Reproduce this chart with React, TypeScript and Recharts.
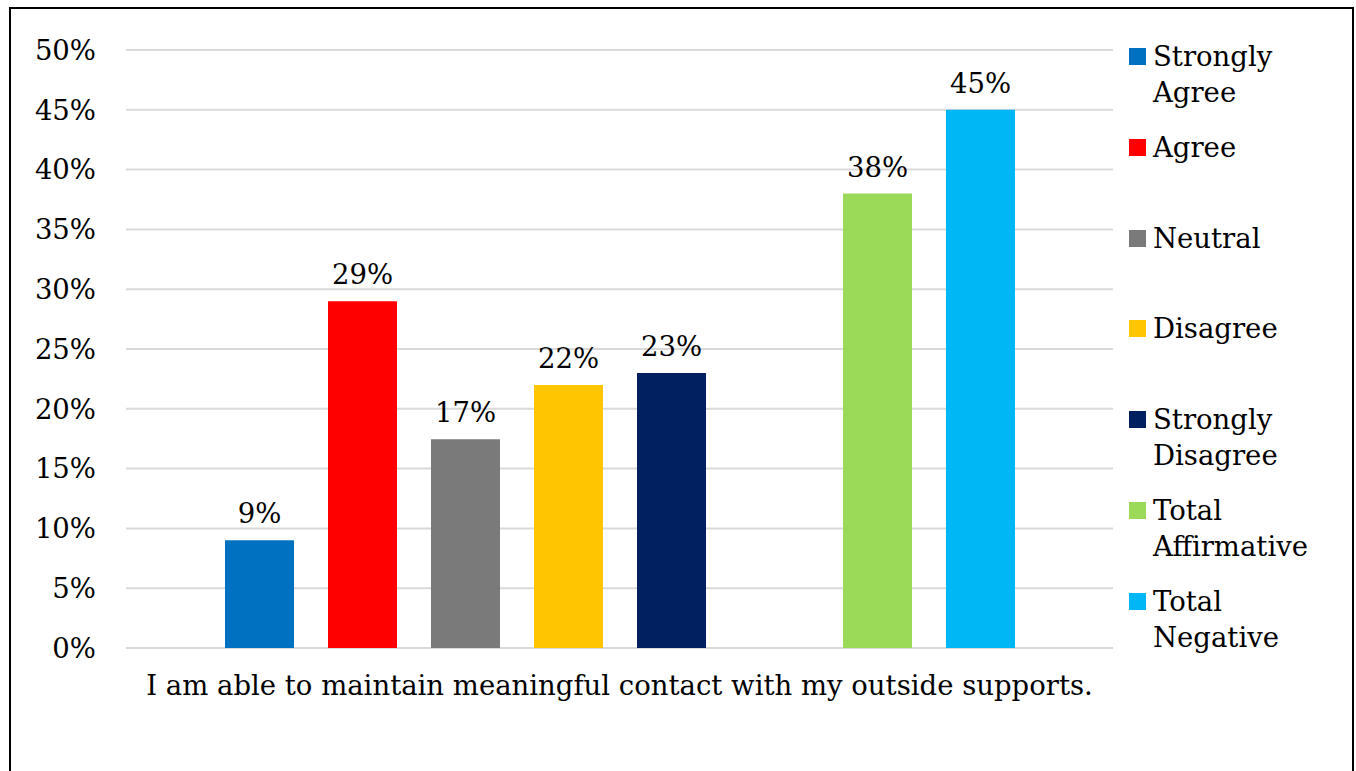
import { BarChart, Bar, XAxis, YAxis, CartesianGrid, LabelList, Legend } from 'recharts';

const FONT = '"DejaVu Serif", Georgia, serif';
const FS = 27.5;

const question = 'I am able to maintain meaningful contact with my outside supports.';
const seriesNames = ['Strongly Agree', 'Agree', 'Neutral', 'Disagree', 'Strongly Disagree', 'Total Affirmative', 'Total Negative'];
const seriesKeys = ['sa', 'a', 'n', 'd', 'sd', 'ta', 'tn'];
const seriesValues = [9, 29, 17.45, 22, 23, 38, 45];
const seriesColors = ['#0070C0', '#FF0000', '#7A7A7A', '#FFC600', '#002060', '#9BD958', '#00B7F5'];
const legendLines = [['Strongly', 'Agree'], ['Agree'], ['Neutral'], ['Disagree'], ['Strongly', 'Disagree'], ['Total', 'Affirmative'], ['Total', 'Negative']];
const yTicks = [0, 5, 10, 15, 20, 25, 30, 35, 40, 45, 50];

const row: Record<string, string | number> = { name: question, gap: 0 };
seriesKeys.forEach((k, i) => { row[k] = seriesValues[i]; });
const data = [row];

// order of bars, with an empty slot between the single answers and the totals
const barOrder = ['sa', 'a', 'n', 'd', 'sd', 'gap', 'ta', 'tn'];

const LegendBox = () => (
  <div style={{ fontFamily: FONT, fontSize: FS, color: '#000' }}>
    {legendLines.map((lines, i) => (
      <div key={i} style={{ position: 'absolute', top: i * 90.8, left: 0, display: 'flex', alignItems: 'flex-start' }}>
        <span style={{ width: 17, height: 17, background: seriesColors[i], marginTop: 10, marginRight: 7, flexShrink: 0 }} />
        <div style={{ lineHeight: '36px', whiteSpace: 'nowrap' }}>
          {lines.map((l, j) => <div key={j}>{l}</div>)}
        </div>
      </div>
    ))}
  </div>
);

export default function App() {
  return (
    <div style={{ position: 'absolute', left: 0, top: 0, width: 1356, height: 771, overflow: 'hidden', background: '#fff' }}>
      <div style={{ position: 'absolute', left: 9, top: 7, width: 1341, height: 800, border: '2px solid #000' }} />
      <div style={{ position: 'absolute', left: 0, top: 0 }}>
        <BarChart
          width={1356}
          height={771}
          data={data}
          margin={{ top: 50, right: 23, bottom: 0, left: 10 }}
          barCategoryGap={96}
          barGap={34}
        >
          <CartesianGrid vertical={false} stroke="#d9d9d9" strokeWidth={2} />
          <XAxis
            dataKey="name"
            axisLine={false}
            tickLine={false}
            tickSize={0}
            tickMargin={27}
            height={123}
            tick={{ fontFamily: FONT, fontSize: FS, fill: '#000' }}
          />
          <YAxis
            domain={[0, 50]}
            ticks={yTicks}
            width={116}
            axisLine={false}
            tickLine={false}
            tickSize={0}
            tickMargin={30}
            tickFormatter={(v: number) => `${v}%`}
            tick={{ fontFamily: FONT, fontSize: FS, fill: '#000' }}
          />
          <Legend
            layout="vertical"
            align="right"
            verticalAlign="top"
            content={<LegendBox />}
            wrapperStyle={{ position: 'absolute', left: 1129, top: 38, width: 220 }}
          />
          {barOrder.map((k) => {
            const i = seriesKeys.indexOf(k);
            if (i < 0) return <Bar key={k} dataKey={k} fill="none" barSize={69} legendType="none" isAnimationActive={false} />;
            return (
              <Bar key={k} dataKey={k} name={seriesNames[i]} fill={seriesColors[i]} barSize={69} isAnimationActive={false}>
                <LabelList
                  dataKey={k}
                  position="top"
                  offset={17}
                  formatter={(v: number) => `${Math.round(v)}%`}
                  style={{ fontFamily: FONT, fontSize: FS, fill: '#000' }}
                />
              </Bar>
            );
          })}
        </BarChart>
      </div>
    </div>
  );
}
